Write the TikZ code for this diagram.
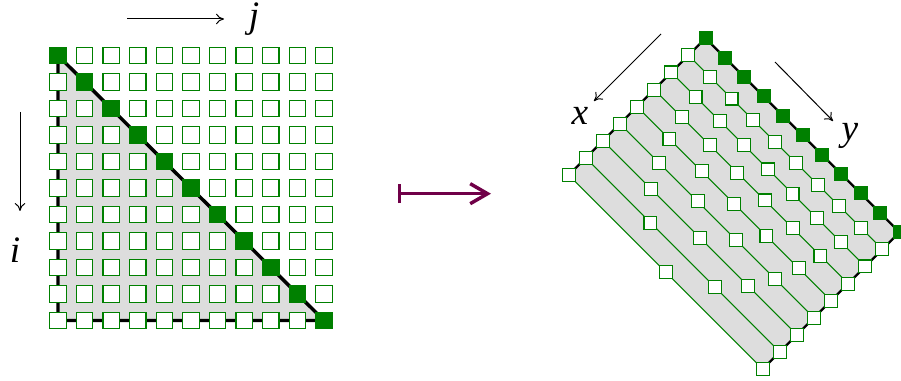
\documentclass[tikz,border=0pt]{standalone}
\usepackage{fontspec}
\setmainfont{Liberation Serif}
\usetikzlibrary{arrows.meta}
\definecolor{gr}{rgb}{0,0.5,0}
\definecolor{mapcol}{RGB}{112,0,72}
\definecolor{bandgray}{RGB}{221,221,221}
\tikzset{
  wsq/.style={draw=gr,fill=white,line width=0.85pt,minimum size=12.3pt,inner sep=0pt,outer sep=0pt},
  fsq/.style={wsq,fill=gr},
  rwsq/.style={draw=gr,fill=white,line width=0.8pt,minimum size=9.7pt,inner sep=0pt,outer sep=0pt},
  rfsq/.style={rwsq,fill=gr},
  axarrow/.style={line width=0.75pt,-{To[length=6pt,width=8pt]}},
  lbl/.style={font=\fontsize{28}{30}\selectfont\itshape,inner sep=0pt},
  thickblk/.style={line width=2.6pt,line join=round},
  thinblk/.style={line width=1.7pt},
  grline/.style={draw=gr,line width=0.8pt},
  mapsarrow/.style={draw=mapcol,line width=2.6pt,{Bar[width=19pt*0.75]}-{Straight Barb[length=13pt,width=15pt,line width=2.6pt]}}
}
\begin{document}
\begin{tikzpicture}[x=0.75pt,y=-0.75pt]
\useasboundingbox (0,0) rectangle (901,381);
% ---------- left grid ----------
\foreach \i in {0,...,10}{
  \foreach \j in {0,...,10}{
    \coordinate (p-\i-\j) at ({58+26.6*\j},{55.5+26.5*\i});
  }
}
\fill[bandgray] (p-0-0) -- (p-10-0) -- (p-10-10) -- cycle;
\draw[thickblk] (p-0-0) -- (p-10-0) -- (p-10-10) -- cycle;
\foreach \i in {0,...,10}{
  \foreach \j in {0,...,10}{
    \ifnum\i=\j
      \node[fsq] (a-\i-\j) at (p-\i-\j) {};
    \else
      \node[wsq] (a-\i-\j) at (p-\i-\j) {};
    \fi
  }
}
% axes left
\coordinate (jA) at (127,19);
\coordinate (jB) at (224,19);
\draw[axarrow] (jA) -- (jB);
\node[lbl] (jl) at (254,19) {j};
\coordinate (iA) at (20,112);
\coordinate (iB) at (20,211);
\draw[axarrow] (iA) -- (iB);
\node[lbl] (il) at (15,250) {i};
% maps-to arrow
\coordinate (mA) at (398,193.7);
\coordinate (mB) at (491,193.7);
\draw[mapsarrow] (mA) -- (mB);
% ---------- right band ----------
\foreach \k in {0,...,8}{
  \pgfmathtruncatemacro\nn{10-\k}
  \foreach \m in {0,...,\nn}{
    \coordinate (r-\k-\m) at ({705.5-17.1*\k+194*\m/\nn},{38.3+17.1*\k+194*\m/\nn});
  }
}
\fill[bandgray] (r-0-0) -- (r-0-10) -- (r-8-2) -- (r-8-0) -- cycle;
\foreach \k in {1,...,8}{
  \pgfmathtruncatemacro\nn{10-\k}
  \draw[grline] (r-\k-0) -- (r-\k-\nn);
}
\draw[thinblk] (r-8-0) -- (r-0-0) -- (r-0-10) -- (r-8-2);
\foreach \k in {0,...,8}{
  \pgfmathtruncatemacro\nn{10-\k}
  \foreach \m in {0,...,\nn}{
    \ifnum\k=0
      \node[rfsq] (b-\k-\m) at (r-\k-\m) {};
    \else
      \node[rwsq] (b-\k-\m) at (r-\k-\m) {};
    \fi
  }
}
% axes right
\coordinate (xA) at (661,34);
\coordinate (xB) at (594,101);
\draw[axarrow] (xA) -- (xB);
\node[lbl] (xl) at (580,116) {x};
\coordinate (yA) at (775,62);
\coordinate (yB) at (833,121);
\draw[axarrow] (yA) -- (yB);
\node[lbl] (yl) at (850,136) {y};
\end{tikzpicture}
\end{document}
